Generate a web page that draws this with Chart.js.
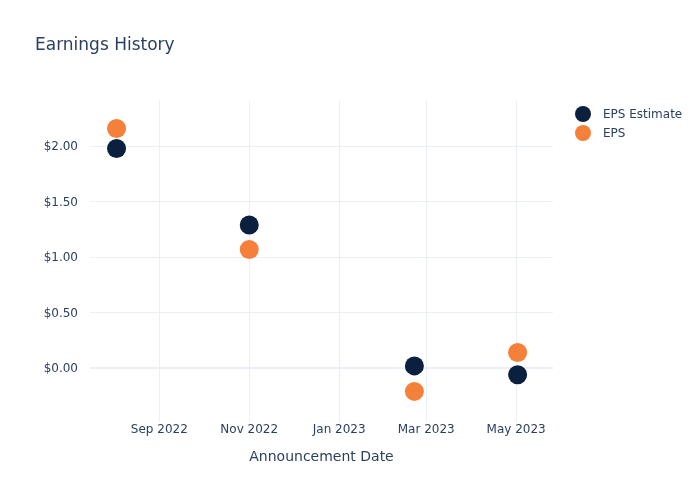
<!DOCTYPE html>
<html>
<head>
<meta charset="utf-8">
<script src="https://cdn.jsdelivr.net/npm/chart.js@4/dist/chart.umd.min.js"></script>
<style>
  html, body { margin: 0; padding: 0; background: #fff; }
  #wrap { width: 700px; height: 500px; }
</style>
</head>
<body>
<div id="wrap"><canvas id="eps-history"></canvas></div>
<script>
const dates = ['2022-08-03', '2022-11-01', '2023-02-21', '2023-05-02'];
const epsEstimate = [1.98, 1.29, 0.02, -0.06];
const epsActual = [2.16, 1.07, -0.21, 0.14];
const monthTicks = ['2022-09-01', '2022-11-01', '2023-01-01', '2023-03-01', '2023-05-01'];
const monthLabels = ['Sep 2022', 'Nov 2022', 'Jan 2023', 'Mar 2023', 'May 2023'];
const yTicks = [0, 0.5, 1, 1.5, 2];

const day = (s) => Date.parse(s + 'T00:00:00Z');
const textColor = '#2a3f5f';
const gridColor = '#ebf0f8';
const fontFamily = '"DejaVu Sans", Verdana, sans-serif';

Chart.defaults.font.family = fontFamily;
Chart.defaults.color = textColor;

// legend drawn by hand so it sits where the reference has it
const sideLegend = {
  id: 'sideLegend',
  afterDraw(chart) {
    const ctx = chart.ctx;
    ctx.save();
    chart.data.datasets.forEach((ds, i) => {
      const y = 114 + i * 19;
      ctx.beginPath();
      ctx.arc(583, y, 8, 0, Math.PI * 2);
      ctx.fillStyle = ds.backgroundColor;
      ctx.fill();
      ctx.fillStyle = textColor;
      ctx.font = '12px ' + fontFamily;
      ctx.textBaseline = 'middle';
      ctx.fillText(ds.label, 603, y + 1);
    });
    ctx.restore();
  }
};

const config = {
  type: 'scatter',
  data: {
    datasets: [{
      label: 'EPS Estimate',
      data: dates.map((d, i) => ({ x: day(d), y: epsEstimate[i] })),
      backgroundColor: '#0b1f3f',
      borderWidth: 0,
      pointRadius: 9.5,
      pointHoverRadius: 9.5
    }, {
      label: 'EPS',
      data: dates.map((d, i) => ({ x: day(d), y: epsActual[i] })),
      backgroundColor: '#f5803a',
      borderWidth: 0,
      pointRadius: 9.5,
      pointHoverRadius: 9.5
    }]
  },
  options: {
    responsive: true,
    maintainAspectRatio: false,
    animation: false,
    layout: { padding: { left: 35, right: 147, top: 0, bottom: 0 } },
    plugins: {
      legend: { display: false },
      tooltip: { enabled: false },
      title: {
        display: true,
        text: 'Earnings History',
        align: 'start',
        color: textColor,
        font: { size: 17, weight: 'normal' },
        padding: { top: 35, bottom: 45 }
      }
    },
    scales: {
      x: {
        type: 'linear',
        min: day('2022-07-16'),
        max: day('2023-05-26'),
        afterBuildTicks: (scale) => { scale.ticks = monthTicks.map(m => ({ value: day(m) })); },
        afterFit: (scale) => { scale.height = 78; },
        grid: { color: gridColor, drawTicks: false },
        border: { display: false },
        ticks: {
          color: textColor,
          font: { size: 12 },
          padding: 1,
          maxRotation: 0,
          callback: (value) => monthLabels[monthTicks.findIndex(m => day(m) === value)]
        },
        title: {
          display: true,
          text: 'Announcement Date',
          color: textColor,
          font: { size: 14 },
          padding: { top: 0, bottom: 34 }
        }
      },
      y: {
        min: -0.486,
        max: 2.414,
        afterBuildTicks: (scale) => { scale.ticks = yTicks.map(v => ({ value: v })); },
        afterFit: (scale) => { scale.width = 55; },
        grid: {
          color: gridColor,
          lineWidth: (c) => c.tick && c.tick.value === 0 ? 2 : 1,
          drawTicks: false
        },
        border: { display: false },
        ticks: {
          color: textColor,
          font: { size: 12 },
          padding: 12,
          labelOffset: 1,
          callback: (value) => '$' + value.toFixed(2)
        }
      }
    }
  },
  plugins: [sideLegend]
};

let epsChart = new Chart(document.getElementById('eps-history'), config);
</script>
</body>
</html>
